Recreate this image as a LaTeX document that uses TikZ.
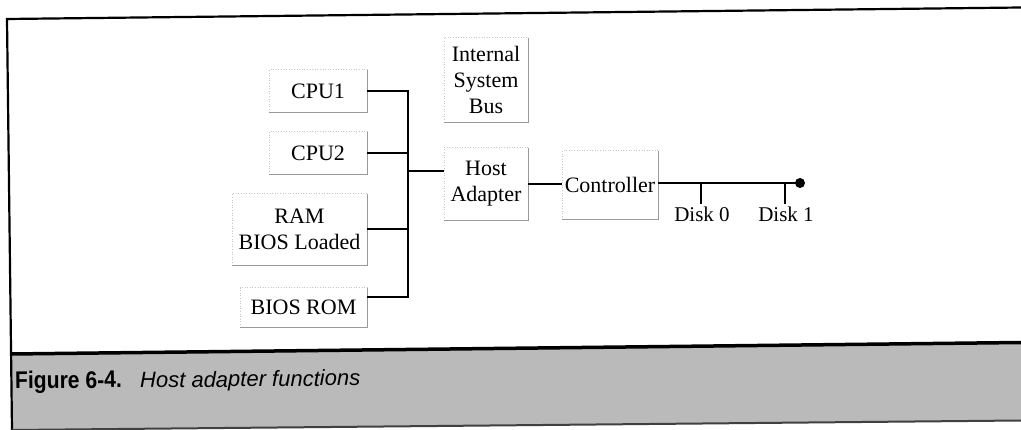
\documentclass[tikz,border=0pt]{standalone}
\usepackage{fontspec}
\setmainfont{Liberation Serif}
\newfontfamily\capsans{Liberation Sans}
\begin{document}
\begin{tikzpicture}[x=1pt,y=-1pt,
  lbl/.style={font=\fontsize{22}{26}\selectfont, align=center, inner sep=0pt},
  blk/.style n args={2}{lbl, minimum width=#1, minimum height=#2},
  boxR/.style={draw=black!40, line width=0.9pt},
  boxL/.style={draw=black!22, line width=0.6pt, dotted},
  wire/.style={draw=black, line width=2pt},
  capfont/.style={anchor=base west, inner sep=0pt, rotate=0.65}
]
\useasboundingbox (0,0) rectangle (1021,430);
\fill[white] (0,0) rectangle (1021,430);

% frame and caption band
\fill[black!27] (11,355) -- (1021,343.5) -- (1021,420.5) -- (12,430) -- cycle;
\draw[line width=2.2pt] (12,430) -- (7,19) -- (1021,7.5);
\draw[line width=3.5pt] (11,354) -- (1021,342.5);
\draw[line width=2pt, black!75] (12,430) -- (1021,420.5);

% blocks
\node[blk={98}{42}] (cpu1) at (318,91) {CPU1};
\node[blk={98}{42}] (cpu2) at (318,153) {CPU2};
\node[blk={135}{71}] (ram) at (299.5,229.5) {RAM\\BIOS Loaded};
\node[blk={127}{39}] (rom) at (303.5,307.5) {BIOS ROM};
\node[blk={84}{84}] (isb) at (486,80) {Internal\\System\\Bus};
\node[blk={84}{72}] (host) at (486,184) {Host\\Adapter};
\node[blk={96}{68}] (ctrl) at (610,185) {Controller};

\foreach \n in {cpu1,cpu2,ram,rom,isb,host,ctrl} {
  \draw[boxL] (\n.south west) -- (\n.north west) -- (\n.north east);
  \draw[boxR] (\n.north east) -- (\n.south east) -- (\n.south west);
}

% bus
\coordinate (bj) at (408,171);
\coordinate (romc) at ([yshift=10pt]rom.east);
\draw[wire] (cpu1.east) -- (cpu1.east -| bj);
\draw[wire] (cpu2.east) -- (cpu2.east -| bj);
\draw[wire] (ram.east) -- (ram.east -| bj);
\draw[wire] (romc) -- (romc -| bj);
\draw[wire, line cap=rect] (cpu1.east -| bj) -- (romc -| bj);
\draw[wire] (bj) -- (bj -| host.west);
\draw[wire] (host.east) -- (host.east -| ctrl.west);

% disk chain
\node[circle, fill=black, inner sep=0pt, minimum size=10pt] (term) at (800,183) {};
\draw[wire] (ctrl.east |- term) -- (term.center);
\coordinate (d0) at (701,183);
\coordinate (d1) at (785,183);
\node[lbl, anchor=north, font=\fontsize{21}{25}\selectfont] (disk0) at (702,207) {Disk 0};
\node[lbl, anchor=north, font=\fontsize{21}{25}\selectfont] (disk1) at (786,207) {Disk 1};
\draw[wire, shorten >=3pt] (d0) -- (d0 |- disk0.north);
\draw[wire, shorten >=3pt] (d1) -- (d1 |- disk1.north);

% caption
\node[capfont, xscale=0.88, font=\capsans\bfseries\fontsize{24}{28}\selectfont] (fig) at (15,389) {Figure 6-4.};
\node[capfont, font=\capsans\itshape\fontsize{22}{26}\selectfont] (title) at (140,388) {Host adapter functions};
\end{tikzpicture}
\end{document}
